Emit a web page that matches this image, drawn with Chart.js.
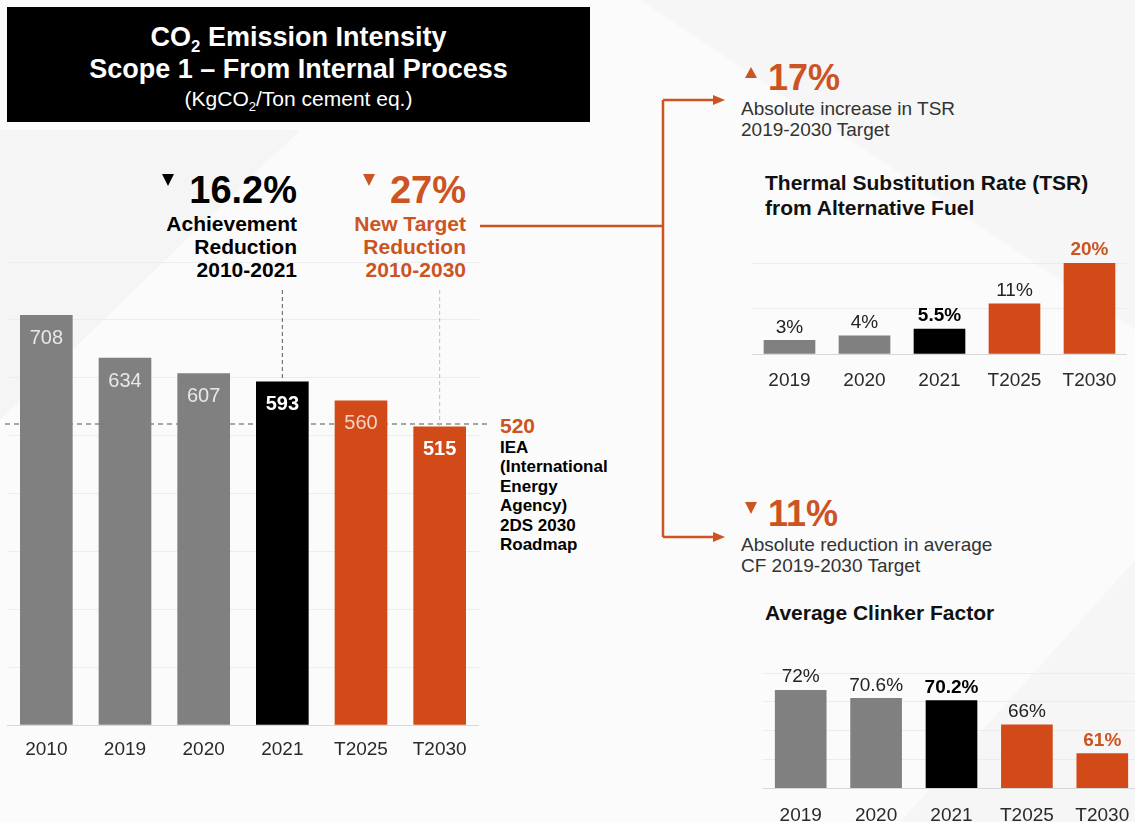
<!DOCTYPE html>
<html>
<head>
<meta charset="utf-8">
<script src="https://cdn.jsdelivr.net/npm/chart.js@4.4.1/dist/chart.umd.min.js"></script>
<style>
  html, body { margin: 0; padding: 0; }
  body {
    width: 1135px; height: 822px; overflow: hidden; position: relative;
    background: #fbfbfb;
    font-family: "Liberation Sans", Arial, Helvetica, sans-serif;
  }
  .abs { position: absolute; white-space: nowrap; }
  canvas { position: absolute; }
  .orange { color: #cc5422; }
  .titlebox {
    position: absolute; left: 7px; top: 7px; width: 583px; height: 115px;
    background: #000; color: #fff; text-align: center;
  }
  .titlebox .ln { position: absolute; left: 0; width: 100%; }
  .sub { font-size: 0.62em; position: relative; top: 0.35em; }
  .tri-down, .tri-up { position: absolute; width: 0; height: 0; }
  .tri-down { border-left: 6.5px solid transparent; border-right: 6.5px solid transparent; border-top: 12px solid #000; }
  .tri-up { border-left: 6.5px solid transparent; border-right: 6.5px solid transparent; border-bottom: 11px solid #cc5422; }
  svg { position: absolute; left: 0; top: 0; }
</style>
</head>
<body>

<svg width="1135" height="822">
  <polygon points="0,130 300,130 0,420" fill="#f5f5f5"/>
  <polygon points="640,0 1135,0 1135,330" fill="#f6f6f6"/>
  <polygon points="1135,560 1135,822 900,822" fill="#f6f6f6"/>
</svg>

<div class="titlebox">
  <div class="ln" style="top:14px;font-size:27px;line-height:32px;font-weight:bold;">CO<span class="sub">2</span> Emission Intensity</div>
  <div class="ln" style="top:46px;font-size:27px;line-height:32px;font-weight:bold;">Scope 1 – From Internal Process</div>
  <div class="ln" style="top:80px;font-size:21px;line-height:24px;">(KgCO<span class="sub">2</span>/Ton cement eq.)</div>
</div>

<!-- achievement annotation -->
<div class="tri-down" style="left:162px;top:174px;"></div>
<div class="abs" style="right:838px;top:170px;font-size:38px;line-height:40px;font-weight:bold;color:#000;">16.2%</div>
<div class="abs" style="right:838px;top:212px;font-size:21px;line-height:23px;font-weight:bold;color:#000;text-align:right;">Achievement<br>Reduction<br>2010-2021</div>

<!-- target annotation -->
<div class="tri-down" style="left:363px;top:174px;border-top-color:#cc5422;"></div>
<div class="abs orange" style="right:669px;top:170px;font-size:38px;line-height:40px;font-weight:bold;">27%</div>
<div class="abs orange" style="right:669px;top:212px;font-size:21px;line-height:23px;font-weight:bold;text-align:right;">New Target<br>Reduction<br>2010-2030</div>

<!-- IEA benchmark -->
<div class="abs orange" style="left:500px;top:415px;font-size:21px;line-height:22px;font-weight:bold;">520</div>
<div class="abs" style="left:500px;top:438px;font-size:17px;line-height:19.4px;font-weight:bold;color:#000;">IEA<br>(International<br>Energy<br>Agency)<br>2DS 2030<br>Roadmap</div>

<!-- connectors -->
<svg width="1135" height="822">
  <g stroke="#cc5422" stroke-width="2.5" fill="none">
    <path d="M480 226 H663"/>
    <path d="M663 100 V537"/>
    <path d="M663 100 H716"/>
    <path d="M663 537 H716"/>
  </g>
  <polygon points="713,95 725,100 713,105" fill="#cc5422"/>
  <polygon points="713,532 725,537 713,542" fill="#cc5422"/>
</svg>

<!-- TSR header -->
<div class="tri-up" style="left:745px;top:67px;"></div>
<div class="abs orange" style="left:768px;top:59px;font-size:36px;line-height:38px;font-weight:bold;">17%</div>
<div class="abs" style="left:741px;top:98px;font-size:19px;line-height:21px;color:#333;">Absolute increase in TSR<br>2019-2030 Target</div>
<div class="abs" style="left:765px;top:170px;font-size:21px;line-height:25px;font-weight:bold;color:#111;">Thermal Substitution Rate (TSR)<br>from Alternative Fuel</div>

<!-- clinker header -->
<div class="tri-down" style="left:745px;top:502px;border-top-color:#cc5422;"></div>
<div class="abs orange" style="left:768px;top:495px;font-size:36px;line-height:38px;font-weight:bold;">11%</div>
<div class="abs" style="left:741px;top:534px;font-size:19px;line-height:21px;color:#333;">Absolute reduction in average<br>CF 2019-2030 Target</div>
<div class="abs" style="left:765px;top:600px;font-size:21px;line-height:25px;font-weight:bold;color:#111;">Average Clinker Factor</div>

<canvas id="main" width="500" height="530" style="left:0;top:250px;"></canvas>
<canvas id="tsr" width="395" height="175" style="left:740px;top:225px;"></canvas>
<canvas id="cf" width="400" height="200" style="left:740px;top:640px;"></canvas>

<script>
// ---- data ----
const intensityYears = ['2010', '2019', '2020', '2021', 'T2025', 'T2030'];
const intensityValues = [708, 634, 607, 593, 560, 515];
const ieaTarget = 520;

const tsrYears = ['2019', '2020', '2021', 'T2025', 'T2030'];
const tsrValues = [3, 4, 5.5, 11, 20];

const clinkerYears = ['2019', '2020', '2021', 'T2025', 'T2030'];
const clinkerValues = [72, 70.6, 70.2, 66, 61];

// ---- styling ----
const FONT = '"Liberation Sans", Arial, Helvetica, sans-serif';
const GREY = '#808080', BLACK = '#000000', ORANGE = '#d14a17', ORANGE_TEXT = '#cc5422';

Chart.defaults.font.family = FONT;
Chart.defaults.devicePixelRatio = 1;

// value labels painted on each bar
function makeValueLabels(cfg) {
  return {
    id: 'valueLabels',
    afterDatasetsDraw(chart) {
      const ctx = chart.ctx;
      const meta = chart.getDatasetMeta(0);
      const data = chart.data.datasets[0].data;
      ctx.save();
      ctx.textAlign = 'center';
      ctx.textBaseline = 'middle';
      meta.data.forEach((bar, i) => {
        ctx.font = (cfg.bold[i] ? 'bold ' : '') + cfg.size + 'px ' + FONT;
        ctx.fillStyle = cfg.colors[i];
        ctx.fillText(data[i] + cfg.suffix, bar.x, bar.y + cfg.offset);
      });
      ctx.restore();
    }
  };
}

function gridColor(base, line) {
  return (c) => (c.tick && c.tick.value === c.scale.min) ? base : line;
}

function barChart(id, labels, values, colors, yMin, yMax, step, pad, axisHeight, tickPad, thickness, gridBase, gridLine, extraPlugins) {
  return new Chart(document.getElementById(id), {
    type: 'bar',
    data: {
      labels: labels,
      datasets: [{ data: values, backgroundColor: colors, borderWidth: 0, barThickness: thickness }]
    },
    options: {
      responsive: false,
      animation: false,
      events: [],
      layout: { padding: pad },
      plugins: { legend: { display: false }, tooltip: { enabled: false } },
      scales: {
        x: {
          grid: { display: false },
          border: { display: false },
          ticks: { color: '#2a2a2a', font: { size: 19, family: FONT }, padding: tickPad, maxRotation: 0, autoSkip: false },
          afterFit: (a) => { a.height = axisHeight; }
        },
        y: {
          min: yMin, max: yMax,
          ticks: { display: false, stepSize: step },
          border: { display: false },
          grid: { drawTicks: false, color: gridColor(gridBase, gridLine), lineWidth: 1 },
          afterFit: (a) => { a.width = 0; }
        }
      }
    },
    plugins: extraPlugins
  });
}

// IEA benchmark line and the two dashed leaders
const mainGuides = {
  id: 'mainGuides',
  beforeDatasetsDraw(chart) {
    const ctx = chart.ctx, area = chart.chartArea;
    const y = chart.scales.y.getPixelForValue(ieaTarget);
    ctx.save();
    ctx.strokeStyle = '#8c8c8c';
    ctx.lineWidth = 1.5;
    ctx.setLineDash([5, 4]);
    ctx.beginPath();
    ctx.moveTo(area.left - 2, y);
    ctx.lineTo(area.right + 10, y);
    ctx.stroke();
    ctx.restore();
  },
  afterDatasetsDraw(chart) {
    const ctx = chart.ctx, area = chart.chartArea;
    const meta = chart.getDatasetMeta(0);
    const leaders = [{ i: 3, color: '#5a5a5a' }, { i: 5, color: '#e9b094' }];
    ctx.save();
    ctx.lineWidth = 1;
    ctx.setLineDash([4, 3]);
    leaders.forEach(l => {
      const bar = meta.data[l.i];
      ctx.strokeStyle = l.color;
      ctx.beginPath();
      ctx.moveTo(bar.x, area.top + 28);
      ctx.lineTo(bar.x, bar.y);
      ctx.stroke();
    });
    ctx.restore();
  }
};

barChart('main', intensityYears, intensityValues,
  [GREY, GREY, GREY, BLACK, ORANGE, ORANGE],
  0, 800, 100,
  { left: 7, right: 21, top: 12, bottom: 0 }, 55, 5, 52,
  '#d8d8d8', '#ededed',
  [mainGuides, makeValueLabels({
    size: 20, suffix: '', offset: 23,
    colors: ['#e8e8e8', '#e8e8e8', '#e8e8e8', '#ffffff', '#f4d3c3', '#ffffff'],
    bold: [false, false, false, true, false, true]
  })]);

barChart('tsr', tsrYears, tsrValues,
  [GREY, GREY, BLACK, ORANGE, ORANGE],
  0, 20, 10,
  { left: 12, right: 8, top: 38, bottom: 0 }, 46, 7, 51,
  '#d8d8d8', '#ececec',
  [makeValueLabels({
    size: 19, suffix: '%', offset: -13,
    colors: ['#222', '#222', '#000', '#222', ORANGE_TEXT],
    bold: [false, false, true, false, true]
  })]);

barChart('cf', clinkerYears, clinkerValues,
  [GREY, GREY, BLACK, ORANGE, ORANGE],
  55, 75, 5,
  { left: 23, right: 0, top: 33, bottom: 0 }, 52, 8, 51,
  '#d8d8d8', '#ececec',
  [makeValueLabels({
    size: 19, suffix: '%', offset: -13,
    colors: ['#222', '#222', '#000', '#222', ORANGE_TEXT],
    bold: [false, false, true, false, true]
  })]);
</script>
</body>
</html>
